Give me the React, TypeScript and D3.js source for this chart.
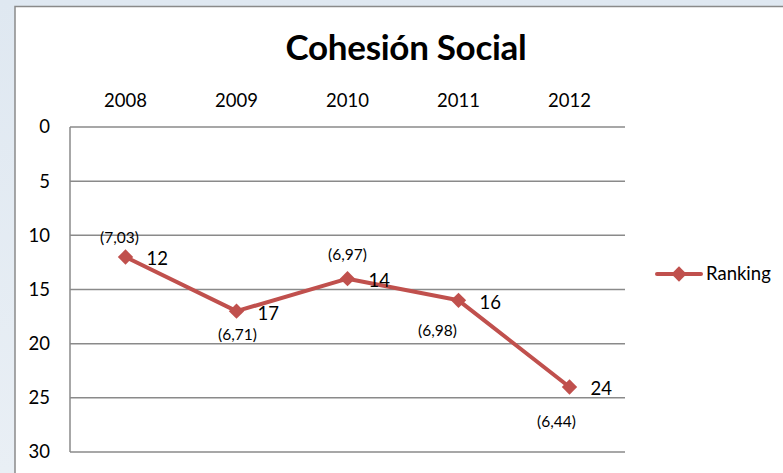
import { useEffect, useRef } from 'react';
import * as d3 from 'd3';

const years = ['2008', '2009', '2010', '2011', '2012'];
const ranking = [12, 17, 14, 16, 24];
const scores = ['(7,03)', '(6,71)', '(6,97)', '(6,98)', '(6,44)'];
const yTicks = [0, 5, 10, 15, 20, 25, 30];

// where each score label sits relative to its point
const scoreOffsets: [number, number][] = [
  [-6, -19],
  [1, 23],
  [0, -24],
  [-21, 30],
  [-13, 35],
];

const W = 783;
const H = 473;
const RED = '#C0504D';
const FONT = 'Lato, Carlito, Calibri, sans-serif';

export default function App() {
  const svgRef = useRef<SVGSVGElement>(null);

  useEffect(() => {
    if (!svgRef.current) return;
    const svg = d3.select(svgRef.current);
    svg.selectAll('*').remove();

    // background
    const defs = svg.append('defs');
    const grad = defs
      .append('linearGradient')
      .attr('id', 'bg')
      .attr('x1', '0%')
      .attr('y1', '0%')
      .attr('x2', '0%')
      .attr('y2', '100%');
    grad.append('stop').attr('offset', '0%').attr('stop-color', '#dfe8f1');
    grad.append('stop').attr('offset', '100%').attr('stop-color', '#e9eff5');
    svg.append('rect').attr('width', W).attr('height', H).attr('fill', 'url(#bg)');

    svg
      .append('rect')
      .attr('x', 15)
      .attr('y', 6.5)
      .attr('width', W)
      .attr('height', H)
      .attr('fill', '#fff')
      .attr('stroke', '#8a8a8a')
      .attr('stroke-width', 1.5);

    const margin = { top: 127, left: 70, right: 158, bottom: 21 };
    const width = W - margin.left - margin.right;
    const chartHeight = H - margin.top - margin.bottom;

    const g = svg.append('g').attr('transform', `translate(${margin.left},${margin.top})`);

    const x = d3.scaleBand().domain(years).range([0, width]);
    const y = d3.scaleLinear().domain([0, 30]).range([0, chartHeight]);
    const cx = (d: string) => (x(d) || 0) + x.bandwidth() / 2;

    // title
    svg
      .append('text')
      .attr('x', 406)
      .attr('y', 60)
      .attr('text-anchor', 'middle')
      .attr('font-family', FONT)
      .attr('font-weight', 'bold')
      .attr('font-size', '35px')
      .attr('letter-spacing', '-0.3px')
      .attr('fill', '#000')
      .text('Cohesión Social');

    // grid
    g.selectAll('.grid')
      .data(yTicks)
      .enter()
      .append('line')
      .attr('x1', 0)
      .attr('x2', width)
      .attr('y1', (d) => y(d))
      .attr('y2', (d) => y(d))
      .attr('stroke', '#8a8a8a')
      .attr('stroke-width', 1.5);

    g.append('line')
      .attr('x1', 0)
      .attr('x2', 0)
      .attr('y1', 0)
      .attr('y2', chartHeight)
      .attr('stroke', '#8a8a8a')
      .attr('stroke-width', 1.5);

    // y labels
    g.selectAll('.ylab')
      .data(yTicks)
      .enter()
      .append('text')
      .attr('x', -20)
      .attr('y', (d) => y(d))
      .attr('dy', '0.35em')
      .attr('text-anchor', 'end')
      .attr('font-family', FONT)
      .attr('font-size', '18.5px')
      .attr('fill', '#000')
      .text((d) => d);

    // x labels (top)
    g.selectAll('.xlab')
      .data(years)
      .enter()
      .append('text')
      .attr('x', (d) => cx(d))
      .attr('y', -20)
      .attr('text-anchor', 'middle')
      .attr('font-family', FONT)
      .attr('font-size', '18.5px')
      .attr('fill', '#000')
      .text((d) => d);

    const line = d3
      .line<number>()
      .x((_, i) => cx(years[i]))
      .y((d) => y(d));

    g.append('path')
      .datum(ranking)
      .attr('fill', 'none')
      .attr('stroke', RED)
      .attr('stroke-width', 4)
      .attr('stroke-linejoin', 'round')
      .attr('d', line);

    const diamond = d3.symbol().type(d3.symbolDiamond2).size(150);

    g.selectAll('.pt')
      .data(ranking)
      .enter()
      .append('path')
      .attr('d', diamond)
      .attr('transform', (d, i) => `translate(${cx(years[i])},${y(d)})`)
      .attr('fill', RED);

    // value labels
    g.selectAll('.val')
      .data(ranking)
      .enter()
      .append('text')
      .attr('x', (_, i) => cx(years[i]) + 21)
      .attr('y', (d) => y(d) + 2)
      .attr('dy', '0.35em')
      .attr('font-family', FONT)
      .attr('font-size', '18.5px')
      .attr('fill', '#000')
      .text((d) => d);

    // score labels
    g.selectAll('.score')
      .data(scores)
      .enter()
      .append('text')
      .attr('x', (_, i) => cx(years[i]) + scoreOffsets[i][0])
      .attr('y', (_, i) => y(ranking[i]) + scoreOffsets[i][1])
      .attr('dy', '0.35em')
      .attr('text-anchor', 'middle')
      .attr('font-family', FONT)
      .attr('font-size', '15.5px')
      .attr('fill', '#000')
      .text((d) => d);

    // legend
    const legend = svg.append('g').attr('transform', 'translate(657,274)');
    legend
      .append('line')
      .attr('x1', 0)
      .attr('x2', 44)
      .attr('y1', 0)
      .attr('y2', 0)
      .attr('stroke', RED)
      .attr('stroke-width', 4)
      .attr('stroke-linecap', 'round');
    legend.append('path').attr('d', diamond).attr('transform', 'translate(22,0)').attr('fill', RED);
    legend
      .append('text')
      .attr('x', 49)
      .attr('y', 0)
      .attr('dy', '0.35em')
      .attr('font-family', FONT)
      .attr('font-size', '18.5px')
      .attr('fill', '#000')
      .text('Ranking');
  }, []);

  return (
    <div style={{ position: 'absolute', left: 0, top: 0, width: W, height: H, overflow: 'hidden' }}>
      <svg ref={svgRef} width={W} height={H} style={{ display: 'block' }} />
    </div>
  );
}
